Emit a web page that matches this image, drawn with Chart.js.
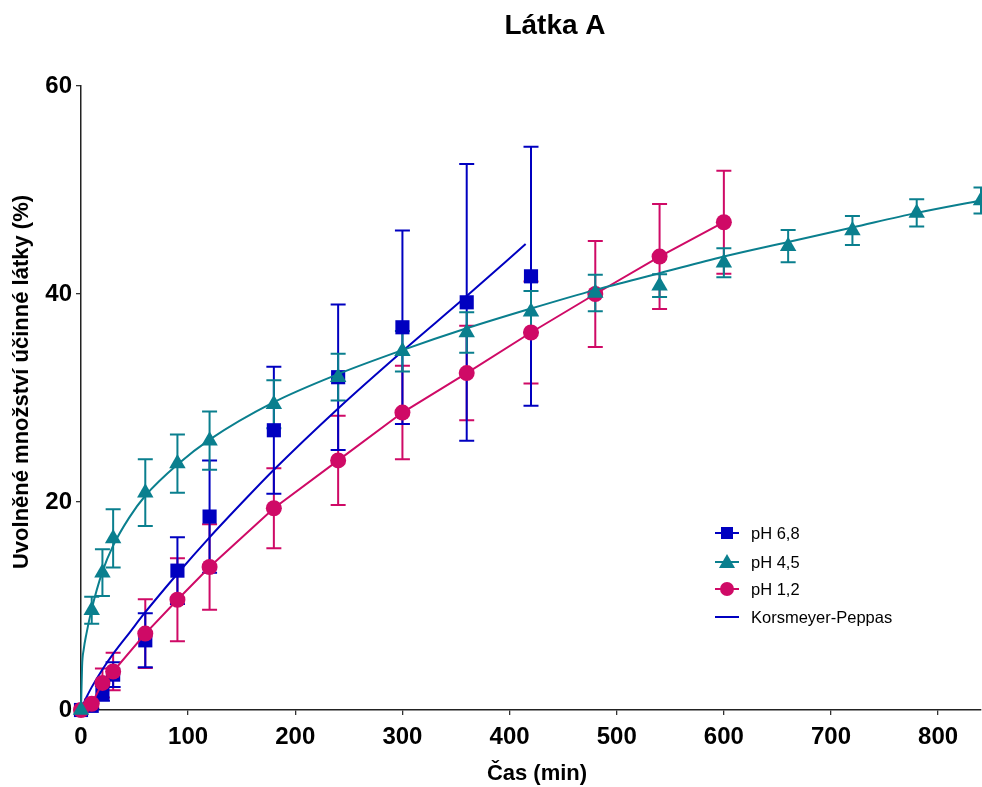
<!DOCTYPE html>
<html><head><meta charset="utf-8">
<script src="https://cdn.jsdelivr.net/npm/chart.js@4.4.1/dist/chart.umd.min.js"></script>
<style>html,body{margin:0;padding:0;background:#fff;} #wrap{width:982px;height:787px;position:relative;}</style>
</head><body><div id="wrap"><canvas id="c" width="982" height="787"></canvas></div>
<script>
// ---- texts ----
const chartTitle = 'Látka A';
const xTitle = 'Čas (min)';
const yTitle = 'Uvolněné množství účinné látky (%)';
const xTickValues = [0, 100, 200, 300, 400, 500, 600, 700, 800];
const yTickValues = [0, 20, 40, 60];
const legendLabels = ['pH 6,8', 'pH 4,5', 'pH 1,2', 'Korsmeyer-Peppas'];

// ---- pH 6,8 (blue squares) ----
const timeBlue = [0, 10, 20, 30, 60, 90, 120, 180, 240, 300, 360, 420];
const valBlue  = [0, 0.4, 1.6, 3.4, 6.7, 13.4, 18.6, 26.9, 32.0, 36.8, 39.2, 41.7];
const sdBlue   = [0, 0.3, 0.7, 1.2, 2.6, 3.2, 5.4, 6.1, 7.0, 9.3, 13.3, 12.45];

// ---- pH 4,5 (teal triangles) ----
const timeTeal = [0, 10, 20, 30, 60, 90, 120, 180, 240, 300, 360, 420, 480, 540, 600, 660, 720, 780, 840];
const valTeal  = [0, 9.6, 13.2, 16.5, 20.9, 23.7, 25.9, 29.4, 32.0, 34.5, 36.3, 38.3, 40.1, 40.8, 43.0, 44.6, 46.1, 47.8, 49.0];
const sdTeal   = [0, 1.3, 2.25, 2.8, 3.2, 2.8, 2.8, 2.3, 2.25, 1.95, 1.95, 2.0, 1.75, 1.1, 1.4, 1.55, 1.4, 1.3, 1.25];
// fitted curve through pH 4,5
const timeTealFit = [0, 1, 2.5, 5, 10, 20, 30, 45, 60, 90, 120, 180, 240, 300, 360, 420, 480, 540, 600, 660, 720, 780, 840];
const valTealFit  = [0, 4.2, 5.8, 7.3, 9.7, 13.3, 15.8, 18.5, 20.6, 23.6, 26.0, 29.6, 32.3, 34.6, 36.7, 38.6, 40.4, 42.0, 43.6, 45.0, 46.4, 47.8, 49.0];

// ---- pH 1,2 (pink circles) ----
const timePink = [0, 10, 20, 30, 60, 90, 120, 180, 240, 300, 360, 420, 480, 540, 600];
const valPink  = [0, 0.6, 2.6, 3.7, 7.35, 10.6, 13.75, 19.4, 24.0, 28.6, 32.4, 36.3, 40.0, 43.6, 46.9];
const sdPink   = [0, 0.4, 1.4, 1.8, 3.3, 4.0, 4.1, 3.85, 4.3, 4.5, 4.55, 4.9, 5.1, 5.05, 4.95];

// ---- Korsmeyer-Peppas curve (blue line) ----
const timeKP = [0, 5, 10, 20, 30, 45, 60, 90, 120, 150, 180, 240, 300, 360, 415];
const valKP  = [0, 1.2, 2.2, 3.9, 5.4, 7.4, 9.4, 13.1, 16.6, 19.9, 23.1, 29.0, 34.5, 39.8, 44.8];

const BLUE = '#0000C0', TEAL = '#0A7F8E', PINK = '#CF0A66';
const FONT = '"Liberation Sans", Arial, sans-serif';

const pts = (xs, ys) => xs.map((x, i) => ({x: x, y: ys[i]}));

const errorSets = [
  {t: timePink, v: valPink, sd: sdPink, color: PINK},
  {t: timeBlue, v: valBlue, sd: sdBlue, color: BLUE},
  {t: timeTeal, v: valTeal, sd: sdTeal, color: TEAL}
];

const errorBarPlugin = {
  id: 'errorBars',
  beforeDatasetsDraw(chart) {
    const ctx = chart.ctx, xs = chart.scales.x, ys = chart.scales.y;
    ctx.save();
    ctx.lineWidth = 2;
    errorSets.forEach(s => {
      ctx.strokeStyle = s.color;
      s.t.forEach((t, i) => {
        if (!s.sd[i]) return;
        const px = xs.getPixelForValue(t);
        const top = ys.getPixelForValue(s.v[i] + s.sd[i]);
        const bot = ys.getPixelForValue(s.v[i] - s.sd[i]);
        ctx.beginPath();
        ctx.moveTo(px, top); ctx.lineTo(px, bot);
        ctx.moveTo(px - 7.5, top); ctx.lineTo(px + 7.5, top);
        ctx.moveTo(px - 7.5, bot); ctx.lineTo(px + 7.5, bot);
        ctx.stroke();
      });
    });
    ctx.restore();
  }
};

const textPlugin = {
  id: 'texts',
  afterDraw(chart) {
    const ctx = chart.ctx;
    ctx.save();
    ctx.fillStyle = '#000';
    // title
    ctx.font = 'bold 28px ' + FONT;
    ctx.textAlign = 'center'; ctx.textBaseline = 'alphabetic';
    ctx.fillText(chartTitle, 555, 34);
    // x title
    ctx.font = 'bold 22px ' + FONT;
    ctx.fillText(xTitle, 537, 780);
    // y title
    ctx.save();
    ctx.translate(28, 382);
    ctx.rotate(-Math.PI / 2);
    ctx.font = 'bold 22px ' + FONT;
    ctx.fillText(yTitle, 0, 0);
    ctx.restore();
    // legend
    const lx = 727, rows = [533, 562, 589, 617];
    const cols = [BLUE, TEAL, PINK, BLUE];
    ctx.font = '16.5px ' + FONT;
    ctx.textAlign = 'left'; ctx.textBaseline = 'middle';
    rows.forEach((ry, i) => {
      ctx.strokeStyle = cols[i]; ctx.fillStyle = cols[i]; ctx.lineWidth = 2;
      ctx.beginPath(); ctx.moveTo(lx - 12, ry); ctx.lineTo(lx + 12, ry); ctx.stroke();
      if (i === 0) { ctx.fillRect(lx - 6, ry - 6, 12, 12); }
      if (i === 1) { ctx.beginPath(); ctx.moveTo(lx, ry - 8); ctx.lineTo(lx + 8, ry + 6); ctx.lineTo(lx - 8, ry + 6); ctx.closePath(); ctx.fill(); }
      if (i === 2) { ctx.beginPath(); ctx.arc(lx, ry, 7, 0, Math.PI * 2); ctx.fill(); }
      ctx.fillStyle = '#000';
      ctx.fillText(legendLabels[i], 751, ry + 1);
    });
    ctx.restore();
  }
};

new Chart(document.getElementById('c'), {
  type: 'scatter',
  data: {
    datasets: [
      {label: legendLabels[1], data: pts(timeTeal, valTeal), showLine: false, pointStyle: 'triangle', pointRadius: 9.5, backgroundColor: TEAL, borderColor: TEAL, borderWidth: 0, order: 1, clip: false},
      {label: 'fit 4,5', data: pts(timeTealFit, valTealFit), showLine: true, pointRadius: 0, borderColor: TEAL, borderWidth: 2, tension: 0.4, cubicInterpolationMode: 'monotone', order: 2, clip: false},
      {label: legendLabels[2], data: pts(timePink, valPink), showLine: true, pointStyle: 'circle', pointRadius: 8, backgroundColor: PINK, borderColor: PINK, borderWidth: 2, pointBorderWidth: 0, tension: 0, order: 3, clip: false},
      {label: legendLabels[3], data: pts(timeKP, valKP), showLine: true, pointRadius: 0, borderColor: BLUE, borderWidth: 2, tension: 0.4, cubicInterpolationMode: 'monotone', order: 4, clip: false},
      {label: legendLabels[0], data: pts(timeBlue, valBlue), showLine: false, pointStyle: 'rect', pointRadius: 10, backgroundColor: BLUE, borderColor: BLUE, borderWidth: 0, order: 5, clip: false}
    ]
  },
  options: {
    responsive: false,
    animation: false,
    devicePixelRatio: 1,
    layout: {autoPadding: false, padding: {top: 86, right: 1, left: 0, bottom: 0}},
    plugins: {legend: {display: false}, title: {display: false}, tooltip: {enabled: false}},
    scales: {
      x: {
        type: 'linear', min: 0, max: 840,
        afterBuildTicks: s => { s.ticks = xTickValues.map(v => ({value: v})); },
        afterFit: s => { s.height = 77; s.paddingLeft = 0; s.paddingRight = 0; },
        ticks: {font: {family: FONT, size: 24, weight: 'bold'}, color: '#000', padding: 8, maxRotation: 0, autoSkip: false},
        grid: {display: true, drawOnChartArea: false, drawTicks: true, tickLength: 5, color: '#333', lineWidth: 1.3},
        border: {display: true, color: '#222', width: 1.5}
      },
      y: {
        type: 'linear', min: 0, max: 60,
        afterBuildTicks: s => { s.ticks = yTickValues.map(v => ({value: v})); },
        afterFit: s => { s.width = 81; s.paddingTop = 0; s.paddingBottom = 0; },
        ticks: {font: {family: FONT, size: 24, weight: 'bold'}, color: '#000', padding: 4},
        grid: {display: true, drawOnChartArea: false, drawTicks: true, tickLength: 5, color: '#333', lineWidth: 1.3},
        border: {display: true, color: '#222', width: 1.5}
      }
    }
  },
  plugins: [errorBarPlugin, textPlugin]
});
</script></body></html>
